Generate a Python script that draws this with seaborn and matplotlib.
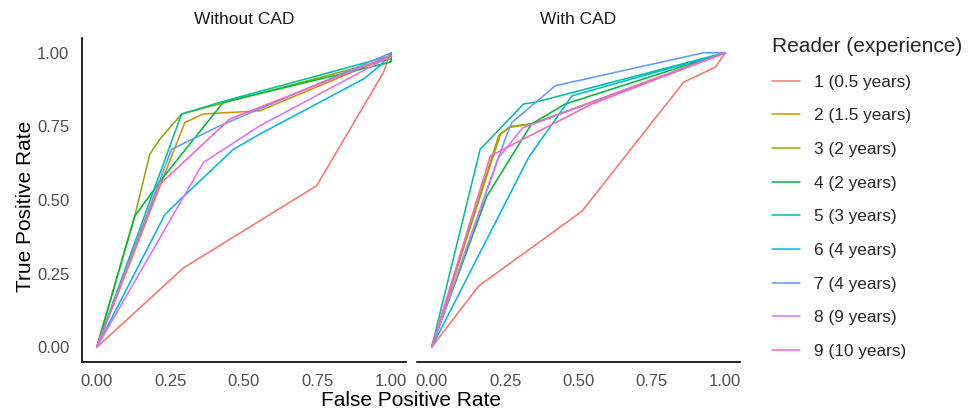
import matplotlib
matplotlib.use("Agg")
import matplotlib.pyplot as plt
import seaborn as sns
import pandas as pd

# ---------------- data ----------------
readers = ["1 (0.5 years)", "2 (1.5 years)", "3 (2 years)", "4 (2 years)",
           "5 (3 years)", "6 (4 years)", "7 (4 years)", "8 (9 years)", "9 (10 years)"]
conditions = ["Without CAD", "With CAD"]
colors = ["#F8766D", "#D39200", "#93AA00", "#00BA38", "#00C19F",
          "#00B9E3", "#619CFF", "#DB72FB", "#FF61C3"]

# Without CAD: (FPR, TPR) per reader
wo_fpr = [
    [0.0, 0.294, 0.747, 0.974, 0.99, 1.0],
    [0.0, 0.13, 0.299, 0.362, 0.554, 1.0],
    [0.0, 0.129, 0.180, 0.214, 0.288, 1.0],
    [0.0, 0.129, 0.22, 0.43, 0.985, 1.0, 1.0],
    [0.0, 0.288, 0.43, 1.0],
    [0.0, 0.231, 0.282, 0.464, 0.554, 0.906, 0.963, 1.0],
    [0.0, 0.254, 0.418, 1.0],
    [0.0, 0.362, 0.554, 1.0],
    [0.0, 0.214, 0.452, 0.554, 1.0],
]
wo_tpr = [
    [0.0, 0.269, 0.549, 0.934, 0.98, 1.0],
    [0.0, 0.33, 0.763, 0.792, 0.803, 0.99],
    [0.0, 0.445, 0.655, 0.706, 0.792, 0.98],
    [0.0, 0.445, 0.57, 0.832, 0.965, 0.97, 1.0],
    [0.0, 0.792, 0.835, 0.99],
    [0.0, 0.45, 0.50, 0.672, 0.724, 0.911, 0.957, 1.0],
    [0.0, 0.672, 0.752, 1.0],
    [0.0, 0.627, 0.752, 0.99],
    [0.0, 0.553, 0.775, 0.815, 0.99],
]

# With CAD: (FPR, TPR) per reader
w_fpr = [
    [0.0, 0.16, 0.512, 0.858, 0.966, 1.0],
    [0.0, 0.194, 0.228, 0.262, 0.341, 1.0],
    [0.0, 0.20, 0.235, 0.27, 0.35, 1.0],
    [0.0, 0.188, 0.34, 0.455, 1.0],
    [0.0, 0.165, 0.313, 0.353, 1.0],
    [0.0, 0.33, 0.478, 1.0],
    [0.0, 0.25, 0.273, 0.421, 0.926, 1.0],
    [0.0, 0.225, 0.31, 1.0],
    [0.0, 0.20, 0.546, 1.0],
]
w_tpr = [
    [0.0, 0.208, 0.462, 0.90, 0.951, 1.0],
    [0.0, 0.61, 0.718, 0.746, 0.758, 1.0],
    [0.0, 0.62, 0.725, 0.75, 0.76, 1.0],
    [0.0, 0.513, 0.758, 0.826, 1.0],
    [0.0, 0.672, 0.826, 0.832, 1.0],
    [0.0, 0.644, 0.854, 1.0],
    [0.0, 0.706, 0.763, 0.888, 1.0, 1.0],
    [0.0, 0.64, 0.745, 1.0],
    [0.0, 0.65, 0.826, 1.0],
]

x_ticks = [0.0, 0.25, 0.5, 0.75, 1.0]
tick_labels = ["0.00", "0.25", "0.50", "0.75", "1.00"]

# -------------- build table --------------
rows = []
for cond, fprs, tprs in [(conditions[0], wo_fpr, wo_tpr), (conditions[1], w_fpr, w_tpr)]:
    for r, fx, ty in zip(readers, fprs, tprs):
        for i, (a, b) in enumerate(zip(fx, ty)):
            rows.append({"condition": cond, "reader": r, "order": i, "fpr": a, "tpr": b})
df = pd.DataFrame(rows)

# -------------- plot --------------
sns.set_theme(style="white")
plt.rcParams["font.family"] = ["Liberation Sans", "DejaVu Sans"]

W, H = 969, 413
fig = plt.figure(figsize=(W / 100, H / 100), dpi=100)
panel_px = [(82, 38, 324, 324), (417, 38, 323, 324)]
axes = []
for (l, t, w, h) in panel_px:
    axes.append(fig.add_axes([l / W, 1 - (t + h) / H, w / W, h / H]))

palette = dict(zip(readers, colors))
for k, (ax, cond) in enumerate(zip(axes, conditions)):
    sub = df[df["condition"] == cond]
    sns.lineplot(data=sub, x="fpr", y="tpr", hue="reader", hue_order=readers,
                 palette=palette, sort=False, estimator=None, linewidth=1.15,
                 ax=ax, legend=(k == 0))
    ax.set_xlim(-0.05, 1.05)
    ax.set_ylim(-0.05, 1.05)
    ax.set_xticks(x_ticks)
    ax.set_xticklabels(tick_labels)
    ax.set_yticks(x_ticks)
    ax.set_yticklabels(tick_labels)
    ax.tick_params(axis="both", length=0, labelsize=12, colors="#4D4D4D", pad=9)
    ax.set_xlabel("")
    ax.set_ylabel("")
    ax.set_title(cond, fontsize=12.5, color="#1A1A1A", pad=10)
    for s in ["top", "right"]:
        ax.spines[s].set_visible(False)
    ax.spines["bottom"].set_color("black")
    ax.spines["bottom"].set_linewidth(1.2)
    ax.spines["left"].set_color("black")
    ax.spines["left"].set_linewidth(1.2)
    if k == 1:
        ax.spines["left"].set_visible(False)
        ax.set_yticklabels([])
    ax.set_facecolor("white")

handles, labels = axes[0].get_legend_handles_labels()
axes[0].get_legend().remove()
leg = fig.legend(handles, labels, title="Reader (experience)",
                 loc="upper left", bbox_to_anchor=(772 / W, 1 - 37 / H),
                 frameon=False, fontsize=12.4, title_fontsize=15,
                 handlelength=1.6, handletextpad=0.85, labelspacing=1.08,
                 borderpad=0, borderaxespad=0, alignment="left")
for line in leg.get_lines():
    line.set_linewidth(1.1)

fig.text(411 / W, 1 - 400 / H, "False Positive Rate", ha="center", va="center",
         fontsize=15, color="black")
fig.text(26 / W, 1 - 206 / H, "True Positive Rate", ha="center", va="center",
         rotation=90, fontsize=15, color="black")

fig.savefig("out.png", dpi=100, facecolor="white")
